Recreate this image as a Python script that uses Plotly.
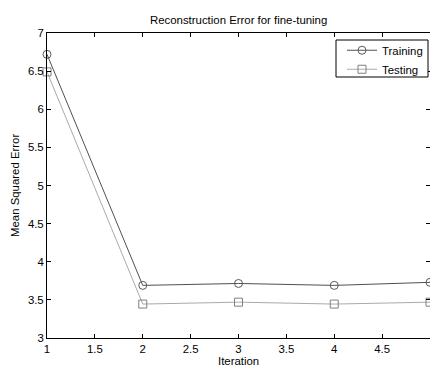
import plotly.graph_objects as go

iterations = [1, 2, 3, 4, 5]
training = [6.72, 3.69, 3.715, 3.69, 3.73]
testing = [6.49, 3.445, 3.47, 3.445, 3.47]
x_ticks = [1, 1.5, 2, 2.5, 3, 3.5, 4, 4.5]
x_tick_labels = ["1", "1.5", "2", "2.5", "3", "3.5", "4", "4.5"]
y_ticks = [3, 3.5, 4, 4.5, 5, 5.5, 6, 6.5, 7]
y_tick_labels = ["3", "3.5", "4", "4.5", "5", "5.5", "6", "6.5", "7"]

FONT = "Liberation Sans, Arial, sans-serif"
FS = 11.4

fig = go.Figure()
fig.add_trace(go.Scatter(
    x=iterations, y=training, name="Training", mode="lines+markers",
    line=dict(color="#505050", width=1),
    marker=dict(symbol="circle-open", size=8, color="#5a5a5a", line=dict(width=1)),
    cliponaxis=False,
))
fig.add_trace(go.Scatter(
    x=iterations, y=testing, name="Testing", mode="lines+markers",
    line=dict(color="#aaaaaa", width=1),
    marker=dict(symbol="square-open", size=8, color="#808080", line=dict(width=1)),
    cliponaxis=False,
))

axis_common = dict(
    showline=True, linecolor="black", linewidth=1, mirror="ticks",
    ticks="inside", ticklen=4, tickcolor="black", tickwidth=1,
    showgrid=False, zeroline=False,
    tickfont=dict(family=FONT, size=FS, color="black"),
)

fig.update_layout(
    width=430, height=367,
    margin=dict(l=47, r=0, t=33, b=29),
    paper_bgcolor="white", plot_bgcolor="white",
    font=dict(family=FONT, size=FS, color="black"),
    title=dict(text="Reconstruction Error for fine-tuning", x=0.555, xanchor="center",
               yref="container", y=(367 - 20) / 367, yanchor="middle",
               font=dict(family=FONT, size=FS, color="black")),
    xaxis=dict(range=[1, 5], tickvals=x_ticks, ticktext=x_tick_labels, **axis_common),
    yaxis=dict(range=[3, 7], tickvals=y_ticks, ticktext=y_tick_labels, **axis_common),
    legend=dict(x=0.9948, xanchor="right", y=0.991, yanchor="top",
                bgcolor="rgba(0,0,0,0)", borderwidth=0,
                font=dict(family=FONT, size=FS, color="black"),
                tracegroupgap=0, itemwidth=30),
    showlegend=True,
    shapes=[
        dict(type="rect", xref="paper", yref="paper",
             x0=0.7546, x1=0.9948, y0=0.8557, y1=0.977,
             line=dict(color="black", width=1), fillcolor="white", layer="above"),
    ],
    annotations=[
        dict(text="Iteration", xref="paper", yref="paper", x=0.5, y=-0.0754,
             xanchor="center", yanchor="middle", showarrow=False,
             font=dict(family=FONT, size=FS, color="black")),
        dict(text="Mean Squared Error", xref="paper", yref="paper", x=-0.0836, y=0.5016,
             xanchor="center", yanchor="middle", textangle=-90, showarrow=False,
             font=dict(family=FONT, size=FS, color="black")),
    ],
)

fig.write_html("out.html", config={"displayModeBar": False},
               post_script="document.body.style.margin='0';document.body.style.overflow='hidden';")
